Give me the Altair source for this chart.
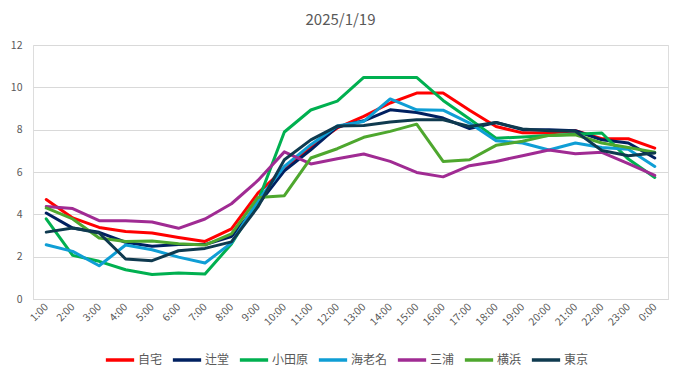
import altair as alt
import pandas as pd

hours = ["1:00", "2:00", "3:00", "4:00", "5:00", "6:00", "7:00", "8:00", "9:00", "10:00",
         "11:00", "12:00", "13:00", "14:00", "15:00", "16:00", "17:00", "18:00", "19:00",
         "20:00", "21:00", "22:00", "23:00", "0:00"]

series_names = ["自宅", "辻堂", "小田原", "海老名", "三浦", "横浜", "東京"]
series_colors = ["#FF0000", "#002060", "#00B050", "#0F9ED5", "#A02B93", "#4EA72E", "#0F3A4F"]

jitaku = [4.70, 3.83, 3.38, 3.19, 3.12, 2.91, 2.72, 3.31, 5.00, 6.15, 7.20, 8.08,
          8.63, 9.26, 9.73, 9.73, 8.92, 8.15, 7.85, 7.84, 7.95, 7.57, 7.57, 7.13]
tsujido = [4.06, 3.35, 3.15, 2.68, 2.49, 2.57, 2.57, 2.95, 4.45, 6.05, 7.05, 8.13,
           8.42, 8.94, 8.81, 8.55, 8.05, 8.34, 8.00, 8.00, 7.95, 7.52, 7.37, 6.66]
odawara = [3.79, 2.06, 1.78, 1.38, 1.16, 1.23, 1.18, 2.60, 4.60, 7.89, 8.93, 9.35,
           10.47, 10.47, 10.47, 9.38, 8.50, 7.60, 7.65, 7.72, 7.78, 7.84, 6.61, 5.74]
ebina = [2.56, 2.25, 1.57, 2.55, 2.33, 1.98, 1.70, 2.65, 4.65, 6.26, 7.29, 8.17,
         8.39, 9.45, 8.94, 8.92, 8.31, 7.48, 7.37, 7.04, 7.37, 7.16, 7.08, 6.26]
miura = [4.37, 4.27, 3.70, 3.70, 3.64, 3.34, 3.78, 4.50, 5.60, 6.95, 6.38, 6.63,
         6.85, 6.50, 5.98, 5.77, 6.30, 6.50, 6.77, 7.04, 6.86, 6.93, 6.39, 5.84]
yokohama = [4.30, 3.78, 2.88, 2.72, 2.74, 2.61, 2.55, 3.08, 4.80, 4.88, 6.66, 7.10,
            7.64, 7.92, 8.26, 6.50, 6.58, 7.26, 7.45, 7.73, 7.76, 7.37, 7.16, 6.93]
tokyo = [3.16, 3.35, 3.12, 1.89, 1.81, 2.28, 2.39, 2.70, 4.35, 6.58, 7.52, 8.17,
         8.20, 8.36, 8.47, 8.47, 8.15, 8.34, 8.03, 7.95, 7.92, 7.02, 6.77, 6.90]

values = [jitaku, tsujido, odawara, ebina, miura, yokohama, tokyo]

rows = []
for name, vals in zip(series_names, values):
    for h, v in zip(hours, vals):
        rows.append({"時刻": h, "値": v, "地点": name})
df = pd.DataFrame(rows)

FONT = "Noto Sans CJK JP"
GRAY = "#595959"

chart = alt.Chart(df).mark_line(strokeWidth=3, strokeJoin="round", strokeCap="round").encode(
    x=alt.X("時刻:N", sort=hours, title=None,
            scale=alt.Scale(paddingInner=0, paddingOuter=0.5, align=0.5),
            axis=alt.Axis(labelAngle=-45, labelAlign="right", labelBaseline="middle",
                          labelPadding=6, ticks=False, domainColor="#D9D9D9",
                          labelColor=GRAY, labelFontSize=10.5, labelFont=FONT)),
    y=alt.Y("値:Q", title=None, scale=alt.Scale(domain=[0, 12], nice=False),
            axis=alt.Axis(values=[0, 2, 4, 6, 8, 10, 12], domain=False, ticks=False,
                          gridColor="#D9D9D9", labelPadding=11, labelColor=GRAY,
                          labelFontSize=10.5, labelFont=FONT)),
    color=alt.Color("地点:N", sort=series_names,
                    scale=alt.Scale(domain=series_names, range=series_colors),
                    legend=alt.Legend(title=None, orient="none", direction="horizontal",
                                      legendX=71, legendY=299, symbolType="stroke",
                                      symbolSize=800, symbolStrokeWidth=3.5,
                                      labelFontSize=12, labelColor=GRAY, labelFont=FONT,
                                      columnPadding=2, labelOffset=2)),
    order=alt.Order("地点:N"),
).properties(
    width=635,
    height=254,
    padding={"left": 25, "top": 37, "right": 5, "bottom": 72},
    autosize=alt.AutoSizeParams(type="none"),
    title=alt.TitleParams("2025/1/19", fontSize=15, font=FONT, fontWeight="normal",
                          color=GRAY, offset=12, dx=-10, anchor="middle"),
).configure_view(stroke=None).configure(background="white")

chart.save("out.html", embed_options={"renderer": "svg", "actions": False})
